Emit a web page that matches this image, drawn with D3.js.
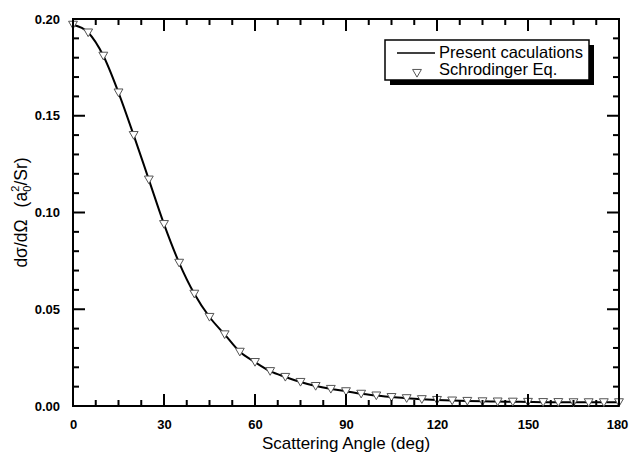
<!DOCTYPE html>
<html>
<head>
<meta charset="utf-8">
<script src="https://cdn.jsdelivr.net/npm/d3@7"></script>
<style>
  body { margin: 0; background: #fff; }
  text { font-family: "Liberation Sans", Arial, sans-serif; }
</style>
</head>
<body>
<svg id="chart" width="629" height="453"></svg>
<script>
const angles = [0, 5, 10, 15, 20, 25, 30, 35, 40, 45, 50, 55, 60, 65, 70, 75, 80, 85, 90,
  95, 100, 105, 110, 115, 120, 125, 130, 135, 140, 145, 150, 155, 160, 165, 170, 175, 180];
const crossSection = [0.197, 0.193, 0.181, 0.162, 0.140, 0.117, 0.094, 0.074, 0.058, 0.046,
  0.037, 0.028, 0.0227, 0.018, 0.015, 0.0124, 0.0103, 0.0088, 0.0076, 0.0063, 0.0054,
  0.0046, 0.0040, 0.0035, 0.0031, 0.0028, 0.0026, 0.0024, 0.0023, 0.0022, 0.0021,
  0.0020, 0.0020, 0.0019, 0.0019, 0.0019, 0.0019];
const xTicks = [0, 30, 60, 90, 120, 150, 180];
const yTicks = [0.00, 0.05, 0.10, 0.15, 0.20];
const legendLabels = ["Present caculations", "Schrodinger Eq."];

const data = angles.map((a, i) => ({ x: a, y: crossSection[i] }));

const svg = d3.select("#chart");
const margin = { top: 19, right: 10, bottom: 47, left: 73 };
const width = 629 - margin.left - margin.right;
const height = 453 - margin.top - margin.bottom;

const x = d3.scaleLinear().domain([0, 180]).range([0, width]);
const y = d3.scaleLinear().domain([0, 0.2]).range([height, 0]);

const g = svg.append("g").attr("transform", `translate(${margin.left},${margin.top})`);

const xMinor = d3.range(0, 180.1, 7.5).filter(v => v % 30 !== 0);
const yMinor = d3.range(0, 0.2001, 0.01).filter(v => Math.round(v * 100) % 5 !== 0);

// tick labels from the axes, tick marks drawn at the end
function styleAxis(sel) {
  sel.select(".domain").remove();
  sel.selectAll(".tick line").remove();
  sel.selectAll(".tick text")
    .attr("font-size", 13)
    .attr("font-weight", "bold")
    .attr("fill", "#000");
}

g.append("g").attr("transform", `translate(0,${height})`)
  .call(d3.axisBottom(x).tickValues(xTicks).tickSize(0).tickPadding(14).tickFormat(d3.format("d")))
  .call(styleAxis)
  .call(a => a.select(".tick:last-of-type text").attr("dx", -2));

g.append("g")
  .call(d3.axisLeft(y).tickValues(yTicks).tickSize(0).tickPadding(13).tickFormat(d3.format(".2f")))
  .call(styleAxis);

// frame
g.append("rect")
  .attr("width", width)
  .attr("height", height)
  .attr("fill", "none")
  .attr("stroke", "#000")
  .attr("stroke-width", 2);

const curve = d3.line()
  .x(d => x(d.x))
  .y(d => y(d.y))
  .curve(d3.curveMonotoneX);

g.append("path")
  .datum(data)
  .attr("fill", "none")
  .attr("stroke", "#000")
  .attr("stroke-width", 2)
  .attr("d", curve);

const tri = d3.symbol().type(d3.symbolTriangle).size(34);

g.selectAll(".pt")
  .data(data)
  .join("path")
  .attr("class", "pt")
  .attr("d", tri)
  .attr("transform", d => `translate(${x(d.x)},${y(d.y) - 1}) rotate(180)`)
  .attr("fill", "#fff")
  .attr("stroke", "#555")
  .attr("stroke-width", 1);

// axis titles
svg.append("text")
  .attr("x", margin.left + width / 2)
  .attr("y", 449)
  .attr("text-anchor", "middle")
  .attr("font-size", 17)
  .text("Scattering Angle (deg)");

const yt = svg.append("text")
  .attr("transform", `translate(27,${margin.top + height / 2}) rotate(-90)`)
  .attr("text-anchor", "middle")
  .attr("font-size", 17.5);
yt.append("tspan").text("dσ/dΩ");
yt.append("tspan").attr("dx", 12).text("(a");
yt.append("tspan").attr("font-size", 11).attr("dy", 4).text("0");
yt.append("tspan").attr("font-size", 11).attr("dx", -6).attr("dy", -12).text("2");
yt.append("tspan").attr("dy", 8).text("/Sr)");

// legend
const lg = svg.append("g").attr("transform", "translate(385,40)");
lg.append("rect").attr("x", 5).attr("y", 5).attr("width", 204).attr("height", 40).attr("fill", "#000");
lg.append("rect").attr("width", 204).attr("height", 40).attr("fill", "#fff").attr("stroke", "#000").attr("stroke-width", 1.5);
lg.append("line").attr("x1", 12).attr("x2", 50).attr("y1", 13).attr("y2", 13).attr("stroke", "#000").attr("stroke-width", 1.5);
lg.append("path").attr("d", tri).attr("transform", "translate(32,32) rotate(180)")
  .attr("fill", "#fff").attr("stroke", "#555");
lg.selectAll(".lt")
  .data(legendLabels)
  .join("text")
  .attr("class", "lt")
  .attr("x", 54)
  .attr("y", (d, i) => 18 + i * 17)
  .attr("font-size", 16.5)
  .text(d => d);

// inward ticks on all four sides, drawn last
const xMarks = xTicks.map(v => ({ v, len: 12 })).concat(xMinor.map(v => ({ v, len: 6 })));
const yMarks = yTicks.map(v => ({ v, len: 12 })).concat(yMinor.map(v => ({ v, len: 6 })));

const tk = svg.append("g")
  .attr("transform", `translate(${margin.left},${margin.top})`)
  .attr("stroke", "#000")
  .attr("stroke-width", 2.2);

tk.selectAll(".xm").data(xMarks).join("rect").attr("class", "xm")
  .attr("x", d => x(d.v) - 1).attr("y", d => height - d.len).attr("width", 2).attr("height", d => d.len)
  .attr("stroke", "none").attr("fill", "#000");
tk.selectAll(".xn").data(xMarks).join("rect").attr("class", "xn")
  .attr("x", d => x(d.v) - 1).attr("y", 0).attr("width", 2).attr("height", d => d.len)
  .attr("stroke", "none").attr("fill", "#000");
tk.selectAll(".yl").data(yMarks).join("rect").attr("class", "yl")
  .attr("x", 0).attr("y", d => y(d.v) - 1).attr("width", d => d.len).attr("height", 2)
  .attr("stroke", "none").attr("fill", "#000");
tk.selectAll(".yr").data(yMarks).join("rect").attr("class", "yr")
  .attr("x", d => width - d.len).attr("y", d => y(d.v) - 1).attr("width", d => d.len).attr("height", 2)
  .attr("stroke", "none").attr("fill", "#000");
</script>
</body>
</html>
